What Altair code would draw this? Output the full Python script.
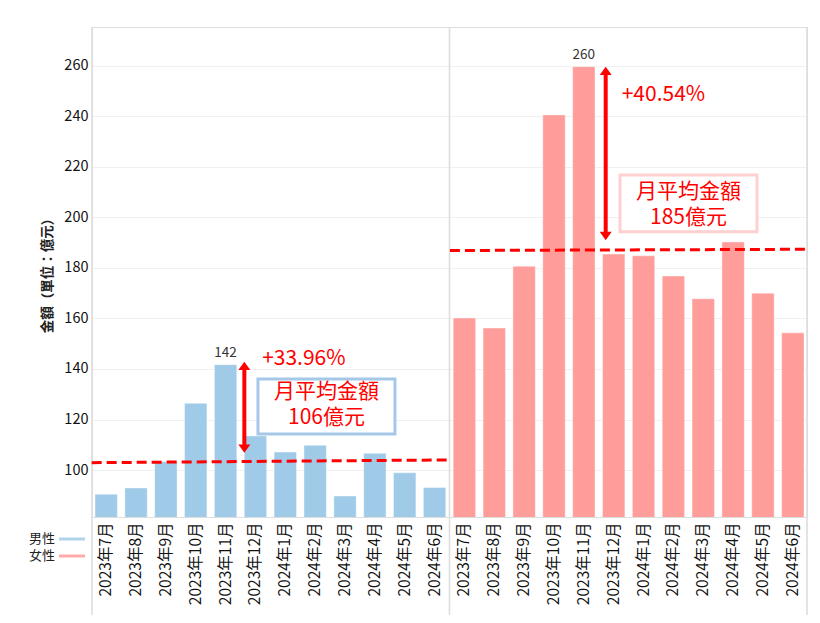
import altair as alt
import pandas as pd

months = ["2023年7月", "2023年8月", "2023年9月", "2023年10月", "2023年11月", "2023年12月",
          "2024年1月", "2024年2月", "2024年3月", "2024年4月", "2024年5月", "2024年6月"]
genders = ["男性", "女性"]
male = [90.4, 92.9, 103.3, 126.4, 141.7, 113.5, 107.1, 109.8, 89.7, 106.6, 98.9, 93.1]
female = [160.2, 156.2, 180.7, 240.6, 259.7, 185.5, 184.8, 176.8, 167.8, 190.3, 170.0, 154.3]
y_ticks = [100, 120, 140, 160, 180, 200, 220, 240, 260]

peak_month = "2023年11月"
peak_labels = ["142", "260"]
peak_values = [141.7, 259.7]
avg_start = [102.9, 186.9]
avg_end = [104.0, 187.4]
arrow_month = "2023年12月"
arrow_top = [142.9, 259.7]
arrow_bottom = [106.8, 191.0]
pct_labels = ["+33.96%", "+40.54%"]
pct_y = [144.0, 248.6]
box_month = "2024年2月"
box_title = "月平均金額"
box_values = ["106億元", "185億元"]
box_top = [136.0, 216.8]
box_bottom = [114.3, 194.3]
box_text_y = [131.0, 210.2]

FONT = "Noto Sans CJK TC"
bar_colors = ["#a0cbe8", "#ff9d9a"]
box_strokes = ["#a6c8e8", "#ffd0d0"]
RED = "#ff0000"

keys = [f"{g}|{m}" for g in genders for m in months]

rows = []
for g, vals in zip(genders, [male, female]):
    for m, v in zip(months, vals):
        rows.append({"key": f"{g}|{m}", "gender": g, "y": v})
bars_df = pd.DataFrame(rows)

xscale = alt.Scale(domain=keys, paddingInner=0.25, paddingOuter=0.1)
xaxis = alt.Axis(title=None, labelExpr="split(datum.label, '|')[1]", labelAngle=270,
                 labelAlign="right", labelBaseline="middle", labelFontSize=15.5,
                 labelColor="#111", labelPadding=5, ticks=False, domain=True,
                 domainColor="#dddddd", domainWidth=1, grid=False, labelFont=FONT)
yscale = alt.Scale(domain=[81.4, 275.4], nice=False, zero=False)
yaxis = alt.Axis(title="金額（單位：億元）", values=y_ticks, ticks=False, domain=False,
                 grid=True, gridColor="#f0f0f0", gridWidth=1, labelFontSize=14.5,
                 labelColor="#111", labelPadding=4, labelFont=FONT,
                 titleFont=FONT, titleFontSize=13.5, titleFontWeight=600,
                 titleColor="#222", titleX=-45, titleY=245, titleBaseline="middle",
                 titleAngle=270)


def X(field="key"):
    return alt.X(f"{field}:N", scale=xscale, sort=keys, axis=xaxis)


def Y(field="y"):
    return alt.Y(f"{field}:Q", scale=yscale, axis=yaxis)


legend = alt.Legend(
    title=None, orient="none", legendX=-26.5, legendY=505.5,
    symbolType="M-2,-0.23L2,-0.23L2,0.23L-2,0.23Z", symbolSize=169,
    symbolStrokeWidth=0, labelAlign="right", labelOffset={"expr": "-23.5"},
    labelFontSize=13, labelFont=FONT, labelColor="#222", rowPadding=3, padding=0,
    symbolOpacity=0.85,
)

bars = alt.Chart(bars_df).mark_bar(clip=True, stroke="white", strokeWidth=0.8,
                                   strokeOpacity=0.5).encode(
    x=X(), y=Y(),
    color=alt.Color("gender:N", scale=alt.Scale(domain=genders, range=bar_colors),
                    legend=legend),
)

div_df = pd.DataFrame({"px": [0, 357.5, 715]})
dividers = alt.Chart(div_df).mark_rule(color="#dedede", strokeWidth=1.6).encode(
    x=alt.X("px:Q", scale=None, axis=None), y=alt.value(0), y2=alt.value(588)
)

layers = [dividers, bars]

styles = [
    {"arrow_dx": -11.1, "pct_dx": 6.7, "box_dx": 11.3},
    {"arrow_dx": -8.0, "pct_dx": 8.0, "box_dx": 15.1},
]

for i, g in enumerate(genders):
    st = styles[i]
    first_key = f"{g}|{months[0]}"
    last_key = f"{g}|{months[-1]}"
    avg_df = pd.DataFrame({"key": [first_key], "key2": [last_key],
                           "y": [avg_start[i]], "y2": [avg_end[i]]})
    layers.append(alt.Chart(avg_df).mark_rule(
        color=RED, strokeWidth=3, strokeDash=[10, 5], xOffset=-14.5, x2Offset=14.5
    ).encode(x=X(), x2="key2:N", y=Y(), y2="y2:Q"))

    akey = f"{g}|{arrow_month}"
    arr_df = pd.DataFrame({"key": [akey], "y": [arrow_top[i]], "y2": [arrow_bottom[i]]})
    layers.append(alt.Chart(arr_df).mark_rule(
        color=RED, strokeWidth=4, xOffset=st["arrow_dx"], yOffset=6, y2Offset=-6
    ).encode(x=X(), y=Y(), y2="y2:Q"))
    head_up = pd.DataFrame({"key": [akey], "y": [arrow_top[i]]})
    head_dn = pd.DataFrame({"key": [akey], "y": [arrow_bottom[i]]})
    layers.append(alt.Chart(head_up).mark_point(
        shape="M0,0L1,1.4L-1,1.4Z", size=144, filled=True, opacity=1, color=RED,
        xOffset=st["arrow_dx"]
    ).encode(x=X(), y=Y()))
    layers.append(alt.Chart(head_dn).mark_point(
        shape="M0,0L1,-1.4L-1,-1.4Z", size=144, filled=True, opacity=1, color=RED,
        xOffset=st["arrow_dx"]
    ).encode(x=X(), y=Y()))

    peak_df = pd.DataFrame({"key": [f"{g}|{peak_month}"], "y": [peak_values[i]],
                            "t": [peak_labels[i]]})
    layers.append(alt.Chart(peak_df).mark_text(
        fontSize=13.5, color="#333", baseline="alphabetic", dy=-7.5, font=FONT
    ).encode(x=X(), y=Y(), text="t:N"))

    pct_df = pd.DataFrame({"key": [akey], "y": [pct_y[i]], "t": [pct_labels[i]]})
    layers.append(alt.Chart(pct_df).mark_text(
        fontSize=21, color=RED, align="left", baseline="middle", dx=st["pct_dx"], font=FONT
    ).encode(x=X(), y=Y(), text="t:N"))

    bkey = f"{g}|{box_month}"
    box_df = pd.DataFrame({"key": [bkey], "y": [box_top[i]], "y2": [box_bottom[i]]})
    layers.append(alt.Chart(box_df).mark_rect(
        width=137, xOffset=st["box_dx"], fill="white", stroke=box_strokes[i], strokeWidth=3
    ).encode(x=X(), y=Y(), y2="y2:Q"))
    bt_df = pd.DataFrame({"key": [bkey], "y": [box_text_y[i]],
                          "t": [box_title + "\n" + box_values[i]]})
    layers.append(alt.Chart(bt_df).mark_text(
        fontSize=21, color=RED, align="center", baseline="middle", dx=st["box_dx"],
        font=FONT, lineBreak="\n", lineHeight=26.5
    ).encode(x=X(), y=Y(), text="t:N"))

chart = alt.layer(*layers).properties(
    width=715, height=490,
    padding={"left": 92, "top": 27, "right": 13, "bottom": 106},
    autosize=alt.AutoSizeParams(type="none"),
    background="white",
).configure_view(stroke=None).configure(font=FONT)

chart.save("out.html", embed_options={"renderer": "svg", "actions": False})
